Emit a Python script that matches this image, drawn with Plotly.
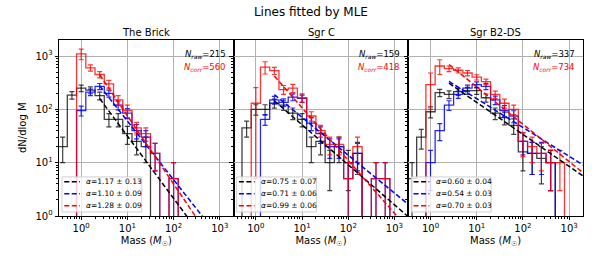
import numpy as np
import plotly.graph_objects as go
from plotly.subplots import make_subplots

# ---------------- data ----------------
fields = ["The Brick", "Sgr C", "Sgr B2-DS"]
bin_centres_log = [-0.4, -0.2, 0.0, 0.2, 0.4, 0.6, 0.8, 1.0, 1.2, 1.4, 1.6, 1.8, 2.0, 2.2, 2.4, 2.6, 2.8]
bin_width_log = 0.2

brick_black = [20, 185, 250, 230, 180, 65, 65, 35, 25, 20, 0, 0, 0, 0, 0, 0, 0]
brick_black_err = [10, 30, 35, 34, 30, 18, 18, 13, 11, 10, 0, 0, 0, 0, 0, 0, 0]
brick_blue = [0, 0, 95, 210, 270, 200, 120, 85, 40, 30, 15, 0, 5, 0, 0, 0, 0]
brick_blue_err = [0, 0, 20, 30, 35, 30, 22, 18, 12, 10, 8, 0, 5, 0, 0, 0, 0]
brick_red = [0, 0, 1100, 600, 450, 300, 150, 95, 45, 35, 15, 0, 5, 0, 0, 0, 0]
brick_red_err = [0, 0, 250, 80, 60, 50, 30, 25, 12, 10, 8, 0, 5, 0, 0, 0, 0]

sgrc_black = [0, 45, 100, 100, 130, 120, 85, 65, 20, 25, 10, 20, 10, 15, 0, 0, 0]
sgrc_black_err = [0, 15, 22, 22, 25, 25, 21, 18, 10, 11, 7, 10, 7, 9, 0, 0, 0]
sgrc_blue = [0, 0, 0, 65, 150, 135, 170, 160, 55, 35, 20, 20, 5, 15, 0, 5, 5]
sgrc_blue_err = [0, 0, 0, 15, 25, 22, 25, 25, 15, 12, 8, 8, 5, 8, 0, 5, 5]
sgrc_red = [0, 0, 130, 620, 530, 235, 250, 165, 75, 40, 22, 22, 5, 20, 0, 5, 5]
sgrc_red_err = [0, 0, 125, 160, 80, 45, 45, 30, 15, 10, 8, 8, 5, 10, 0, 5, 5]

b2ds_black = [5, 30, 90, 205, 190, 215, 225, 225, 165, 85, 70, 50, 16, 15, 12, 10, 0]
b2ds_black_err = [5, 12, 21, 32, 31, 33, 34, 34, 29, 21, 19, 16, 9, 9, 8, 7, 0]
b2ds_blue = [0, 0, 10, 40, 120, 190, 250, 290, 270, 150, 95, 75, 25, 15, 15, 10, 0]
b2ds_blue_err = [0, 0, 7, 14, 25, 30, 35, 38, 36, 27, 22, 19, 11, 9, 9, 7, 0]
b2ds_red = [0, 0, 290, 650, 580, 540, 480, 400, 330, 190, 130, 100, 25, 20, 15, 10, 10]
b2ds_red_err = [0, 0, 190, 200, 70, 60, 55, 45, 40, 30, 25, 20, 12, 10, 8, 7, 7]

# MLE power-law fits: slope alpha, log10(dN/dlogM) at M = 1, fit starts at log10 M
alpha_black = [1.17, 0.75, 0.60]
alpha_black_err = [0.13, 0.07, 0.04]
alpha_blue = [1.10, 0.71, 0.54]
alpha_blue_err = [0.09, 0.06, 0.03]
alpha_red = [1.28, 0.99, 0.70]
alpha_red_err = [0.09, 0.06, 0.03]
norm_black = [2.67, 2.46, 2.73]
norm_blue = [2.88, 2.56, 2.74]
norm_red = [3.16, 3.02, 3.12]
fit_start_log = [0.4, 0.4, 0.4]

n_raw = [215, 159, 337]
n_corr = [560, 418, 734]

# ---------------- figure ----------------
FONT = "DejaVu Sans"
C_BLACK = "rgba(0,0,0,0.75)"
C_BLUE = "rgba(0,0,255,0.85)"
C_RED = "rgba(255,0,0,0.8)"
FIT_DASH = "5px,2.5px"

fig = make_subplots(rows=1, cols=3, shared_yaxes=True, horizontal_spacing=0,
                    subplot_titles=fields)

panels = [
    (brick_black, brick_black_err, brick_blue, brick_blue_err, brick_red, brick_red_err),
    (sgrc_black, sgrc_black_err, sgrc_blue, sgrc_blue_err, sgrc_red, sgrc_red_err),
    (b2ds_black, b2ds_black_err, b2ds_blue, b2ds_blue_err, b2ds_red, b2ds_red_err),
]
TINY = 1e-3
centres = np.array(bin_centres_log)


def step_xy(vals):
    vals = np.array(vals, dtype=float)
    nz = np.nonzero(vals)[0]
    i0, i1 = nz[0], nz[-1]
    xs, ys = [], []
    xs.append(10 ** (centres[i0] - bin_width_log / 2)); ys.append(TINY)
    for i in range(i0, i1 + 1):
        l = 10 ** (centres[i] - bin_width_log / 2)
        r = 10 ** (centres[i] + bin_width_log / 2)
        v = vals[i] if vals[i] > 0 else TINY
        xs += [l, r]; ys += [v, v]
    xs.append(10 ** (centres[i1] + bin_width_log / 2)); ys.append(TINY)
    return xs, ys


# legend geometry (axis-domain fractions)
LEG_BOX = (0.017, 0.023, 0.474, 0.222)
LEG_ROWS = [0.195, 0.127, 0.0585]
LEG_LINE = (0.03, 0.12)
LEG_TEXT_X = 0.145

for p, (bk, bke, bl, ble, rd, rde) in enumerate(panels):
    col = p + 1
    xa = "x" if p == 0 else f"x{p + 1}"
    ya = "y" if p == 0 else f"y{p + 1}"
    for vals, errs, color in [(bk, bke, C_BLACK), (bl, ble, C_BLUE), (rd, rde, C_RED)]:
        xs, ys = step_xy(vals)
        fig.add_trace(go.Scatter(x=xs, y=ys, mode="lines",
                                 line=dict(color=color, width=1.3),
                                 showlegend=False, hoverinfo="skip"), row=1, col=col)
        ex, ey, eplus, eminus = [], [], [], []
        for c, v, e in zip(bin_centres_log, vals, errs):
            if v > 0:
                ex.append(10 ** c); ey.append(v); eplus.append(e)
                eminus.append(min(e, v - TINY))
        fig.add_trace(go.Scatter(x=ex, y=ey, mode="markers",
                                 marker=dict(size=1, color="rgba(0,0,0,0)"),
                                 error_y=dict(type="data", array=eplus, arrayminus=eminus,
                                              color=color, thickness=1.2, width=2.5),
                                 showlegend=False, hoverinfo="skip"), row=1, col=col)
    fits = [(alpha_black, alpha_black_err, norm_black, "black"),
            (alpha_blue, alpha_blue_err, norm_blue, "blue"),
            (alpha_red, alpha_red_err, norm_red, "red")]
    for a, ae, nrm, color in fits:
        lm = np.array([fit_start_log[p], 3.4])
        fig.add_trace(go.Scatter(x=10 ** lm, y=10 ** (nrm[p] - a[p] * lm), mode="lines",
                                 line=dict(color=color, width=1.5, dash=FIT_DASH),
                                 showlegend=False, hoverinfo="skip"),
                      row=1, col=col)

    # legend box
    fig.add_shape(type="rect", xref=f"{xa} domain", yref=f"{ya} domain",
                  x0=LEG_BOX[0], y0=LEG_BOX[1], x1=LEG_BOX[2], y1=LEG_BOX[3],
                  fillcolor="rgba(255,255,255,0.8)", line=dict(color="#d0d0d0", width=1),
                  layer="above")
    for (a, ae, nrm, color), yrow in zip(fits, LEG_ROWS):
        fig.add_shape(type="line", xref=f"{xa} domain", yref=f"{ya} domain",
                      x0=LEG_LINE[0], x1=LEG_LINE[1], y0=yrow, y1=yrow,
                      line=dict(color=color, width=1.5, dash=FIT_DASH), layer="above")
        fig.add_annotation(xref=f"{xa} domain", yref=f"{ya} domain", x=LEG_TEXT_X, y=yrow,
                           xanchor="left", yanchor="middle", showarrow=False,
                           text=f"<i>α</i>={a[p]:.2f} ± {ae[p]:.2f}",
                           font=dict(family=FONT, size=7.5, color="black"))

    fig.add_annotation(xref=f"{xa} domain", yref=f"{ya} domain", x=0.965, y=0.92,
                       xanchor="right", yanchor="middle", showarrow=False,
                       text=f"<i>N</i><sub><i>raw</i></sub>={n_raw[p]}",
                       font=dict(family=FONT, size=8.5, color="black"))
    fig.add_annotation(xref=f"{xa} domain", yref=f"{ya} domain", x=0.965, y=0.845,
                       xanchor="right", yanchor="middle", showarrow=False,
                       text=f"<i>N</i><sub><i>corr</i></sub>={n_corr[p]}",
                       font=dict(family=FONT, size=8.5, color="red"))

minor_vals = [k * 10.0 ** d for d in range(-1, 4) for k in range(2, 10)]
tick_vals = [1, 10, 100, 1000]
tick_text = ["10<sup>0</sup>", "10<sup>1</sup>", "10<sup>2</sup>", "10<sup>3</sup>"]

for p in range(3):
    fig.update_xaxes(type="log", range=[-0.48, 3.3], tickvals=tick_vals, ticktext=tick_text,
                     ticks="outside", ticklen=3.5, tickwidth=0.8, tickcolor="black",
                     minor=dict(tickvals=minor_vals, ticks="outside", ticklen=2,
                                tickwidth=0.6, tickcolor="black", showgrid=False),
                     showgrid=True, gridcolor="#b0b0b0", gridwidth=0.8,
                     showline=True, linecolor="black", linewidth=0.8, mirror=True,
                     zeroline=False, tickfont=dict(family=FONT, size=10, color="black"),
                     title=dict(text="Mass (<i>M</i><sub>☉</sub>)", standoff=3,
                                font=dict(family=FONT, size=10, color="black")),
                     row=1, col=p + 1)
    fig.update_yaxes(type="log", range=[0, 3.3], tickvals=tick_vals, ticktext=tick_text,
                     ticks="outside", ticklen=3.5, tickwidth=0.8, tickcolor="black",
                     minor=dict(tickvals=minor_vals, ticks="outside", ticklen=2,
                                tickwidth=0.6, tickcolor="black", showgrid=False),
                     showgrid=True, gridcolor="#b0b0b0", gridwidth=0.8,
                     showline=True, linecolor="black", linewidth=0.8, mirror=True,
                     zeroline=False, tickfont=dict(family=FONT, size=10, color="black"),
                     showticklabels=(p == 0),
                     row=1, col=p + 1)

# y-axis label placed like matplotlib's
fig.add_annotation(xref="paper", yref="paper", x=(22 - 59) / 524, y=0.5,
                   xanchor="center", yanchor="middle", textangle=-90, showarrow=False,
                   text="dN/dlog M", font=dict(family=FONT, size=10, color="black"))

for ann in fig.layout.annotations:
    if ann.text in fields:
        ann.font = dict(family=FONT, size=10, color="black")

fig.update_layout(
    width=598, height=271,
    margin=dict(l=59, r=15, t=40, b=55),
    paper_bgcolor="white", plot_bgcolor="white",
    title=dict(text="Lines fitted by MLE", x=0.52, xanchor="center", y=1 - 12 / 271,
               yanchor="middle", font=dict(family=FONT, size=12, color="black")),
    showlegend=False,
    font=dict(family=FONT),
)

# remove the browser's default 8 px page margin so the figure sits at (0, 0)
fig.write_html("out.html", config={"displayModeBar": False},
               post_script="document.body.style.margin='0px';")
